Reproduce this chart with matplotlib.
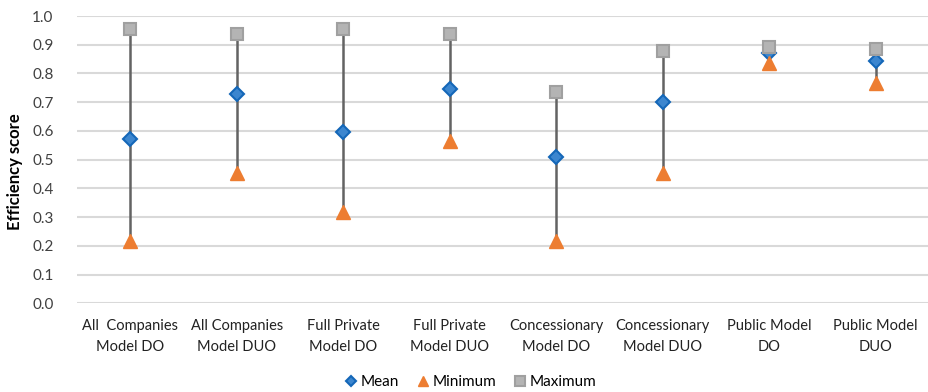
import matplotlib.pyplot as plt
import numpy as np

plt.rcParams['font.family'] = ['Lato', 'DejaVu Sans']

categorias = ["All  Companies\nModel DO", "All Companies\nModel DUO", "Full Private\nModel DO",
              "Full Private\nModel DUO", "Concessionary\nModel DO", "Concessionary\nModel DUO",
              "Public Model\nDO", "Public Model\nDUO"]
media = [0.572, 0.730, 0.597, 0.746, 0.509, 0.702, 0.871, 0.842]
minimo = [0.217, 0.455, 0.317, 0.564, 0.218, 0.455, 0.836, 0.767]
maximo = [0.955, 0.936, 0.955, 0.936, 0.735, 0.877, 0.891, 0.886]

x = np.arange(len(categorias))

fig = plt.figure(figsize=(9.29, 3.92), dpi=100)
ax = fig.add_axes([77 / 929, 1 - 303.3 / 392, 852 / 929, 287.3 / 392])

ax.vlines(x, minimo, maximo, color="#636363", linewidth=1.8, zorder=2)
ax.plot(x, media, linestyle="none", marker="D", markersize=7, markerfacecolor="#3C86CF",
        markeredgecolor="#1467B8", markeredgewidth=1.5, label="Mean", zorder=3)
ax.plot(x, minimo, linestyle="none", marker="^", markersize=10, markerfacecolor="#ED7D31",
        markeredgecolor="#ED7D31", label="Minimum", zorder=4)
ax.plot(x, maximo, linestyle="none", marker="s", markersize=9, markerfacecolor="#B4B4B4",
        markeredgecolor="#A0A0A0", markeredgewidth=1.5, label="Maximum", zorder=5)

ax.set_xlim(-0.5, len(categorias) - 0.5)
ax.set_ylim(0, 1.0)
ax.set_yticks(np.arange(0, 1.01, 0.1))
ax.set_yticklabels([f"{v:.1f}" for v in np.arange(0, 1.01, 0.1)], fontsize=11, color="#404040")
ax.set_xticks(x)
ax.set_xticklabels(categorias, fontsize=10.5, color="#222222", linespacing=1.65)
ax.tick_params(axis="both", length=0, pad=11)
ax.tick_params(axis="y", pad=17)
ax.grid(axis="y", color="#D9D9D9", linewidth=1.5, zorder=0)
ax.set_axisbelow(True)
for s in ax.spines.values():
    s.set_visible(False)

fig.text(15 / 929, 1 - 172 / 392, "Efficiency score", rotation=90, fontsize=12,
         fontweight="bold", ha="center", va="center")

fig.legend(loc="center", bbox_to_anchor=(0.505, 1 - 382 / 392), ncol=3, frameon=False,
           fontsize=11, handletextpad=0.0, columnspacing=1.0, markerscale=0.75,
           handlelength=1.2)

fig.savefig("out.png", dpi=100)
